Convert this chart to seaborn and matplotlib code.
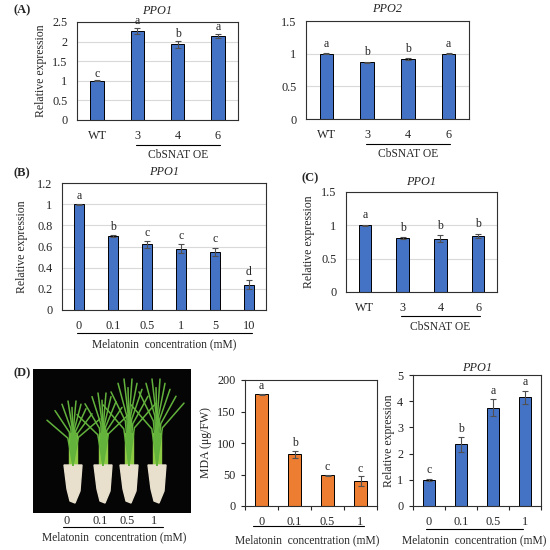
import matplotlib
matplotlib.use("Agg")
import matplotlib.pyplot as plt
import seaborn as sns
import numpy as np

sns.set_theme(style="white")
plt.rcParams['font.family'] = ['Liberation Serif', 'DejaVu Serif']
plt.rcParams['mathtext.fontset'] = 'stix'

BLUE = "#4472C4"
ORANGE = "#ED7D31"
TICK_FS = 8.8
TEXT_FS = 8.3

# (A) PPO1 / PPO2 in CbSNAT OE lines
lines_cats = ["WT", "3", "4", "6"]
a_ppo1 = [1.0, 2.27, 1.93, 2.15]
a_ppo1_err = [0.01, 0.07, 0.09, 0.05]
a_ppo1_let = ["c", "a", "b", "a"]
a_ppo2 = [1.0, 0.87, 0.92, 1.0]
a_ppo2_err = [0.01, 0.01, 0.01, 0.01]
a_ppo2_let = ["a", "b", "b", "a"]

# (B) PPO1 vs melatonin
mel_cats = ["0", "0.1", "0.5", "1", "5", "10"]
b_ppo1 = [1.0, 0.70, 0.62, 0.58, 0.55, 0.24]
b_ppo1_err = [0.005, 0.012, 0.03, 0.04, 0.04, 0.045]
b_ppo1_let = ["a", "b", "c", "c", "c", "d"]

# (C) PPO1
c_ppo1 = [1.0, 0.81, 0.80, 0.84]
c_ppo1_err = [0.01, 0.015, 0.05, 0.035]
c_ppo1_let = ["a", "b", "b", "b"]

# (D) MDA and PPO1
d_cats = ["0", "0.1", "0.5", "1"]
d_mda = [177, 82, 49, 40]
d_mda_err = [1.5, 6, 1, 8]
d_mda_let = ["a", "b", "c", "c"]
d_ppo1 = [1.0, 2.35, 3.75, 4.15]
d_ppo1_err = [0.04, 0.27, 0.32, 0.25]
d_ppo1_let = ["c", "b", "a", "a"]

fig = plt.figure(figsize=(5.5, 5.5), dpi=100)


def px_axes(x0, y0, x1, y1):
    return fig.add_axes([x0 / 550, 1 - y1 / 550, (x1 - x0) / 550, (y1 - y0) / 550])


def bar_panel(ax, cats, vals, errs, letters, color, width, ymax, yticks,
              grid=True, excel_ticks=False, let_off=None):
    sns.barplot(x=cats, y=vals, order=cats, color=color, saturation=1, width=width,
                edgecolor="black", linewidth=0.7, ax=ax)
    ax.errorbar(range(len(cats)), vals, yerr=errs, fmt="none", ecolor="#505050",
                elinewidth=0.8, capsize=2, capthick=0.8)
    if let_off is None:
        let_off = ymax * 0.02
    for i, (v, e, l) in enumerate(zip(vals, errs, letters)):
        ax.text(i, v + e + let_off, l, ha="center", va="bottom", fontsize=8.5)
    ax.set_xlim(-0.5, len(cats) - 0.5)
    ax.set_ylim(0, ymax)
    ax.set_yticks(yticks)
    ax.set_yticklabels([f"{t:g}" for t in yticks])
    ax.set_xlabel("")
    ax.set_ylabel("")
    for s in ax.spines.values():
        s.set_visible(True)
        s.set_color("#303030")
        s.set_linewidth(0.8)
    if grid:
        ax.yaxis.grid(True, color="#d9d9d9", linewidth=0.8)
        ax.set_axisbelow(True)
    if excel_ticks:
        ax.tick_params(axis="y", length=3, width=0.8, direction="out", pad=4,
                       labelsize=TICK_FS, left=True)
        ax.tick_params(axis="x", length=0, pad=7, labelsize=TICK_FS)
        ax.set_xticks(np.arange(-0.5, len(cats)), minor=True)
        ax.tick_params(axis="x", which="minor", length=3, width=0.8,
                       direction="out", bottom=True)
    else:
        ax.tick_params(axis="both", length=0, labelsize=TICK_FS)
        ax.tick_params(axis="y", pad=7)
        ax.tick_params(axis="x", pad=7)


def group_line(ax, x0, x1, yl, yt, text, xt):
    ax.plot([x0, x1], [yl, yl], transform=ax.get_xaxis_transform(),
            color="black", linewidth=0.8, clip_on=False)
    ax.text(xt, yt, text, transform=ax.get_xaxis_transform(), ha="center",
            va="center", fontsize=TEXT_FS)


def title(ax, text, y):
    ax.text(0.5, y, text, transform=ax.transAxes, ha="center", va="center",
            fontsize=8.8, style="italic")


def ylab(ax, text, xr):
    ax.set_ylabel(text, fontsize=8.5)
    ax.yaxis.set_label_coords(xr, 0.5)


# (A) left
ax = px_axes(77, 22, 238, 120)
bar_panel(ax, lines_cats, a_ppo1, a_ppo1_err, a_ppo1_let, BLUE, 0.33, 2.5,
          [0, 0.5, 1, 1.5, 2, 2.5], let_off=0.02)
ylab(ax, "Relative expression", -0.186)
title(ax, "PPO1", 1.115)
group_line(ax, 0.97, 3.05, -0.255, -0.36, "CbSNAT OE", 2)

# (A) right
ax = px_axes(306, 21, 469, 119)
bar_panel(ax, lines_cats, a_ppo2, a_ppo2_err, a_ppo2_let, BLUE, 0.33, 1.5,
          [0, 0.5, 1, 1.5], let_off=0.05)
title(ax, "PPO2", 1.12)
group_line(ax, 0.97, 3.03, -0.255, -0.36, "CbSNAT OE", 2)

# (B)
ax = px_axes(62, 183, 266, 310)
bar_panel(ax, mel_cats, b_ppo1, b_ppo1_err, b_ppo1_let, BLUE, 0.3, 1.2,
          [0, 0.2, 0.4, 0.6, 0.8, 1, 1.2], let_off=0.02)
ylab(ax, "Relative expression", -0.167)
title(ax, "PPO1", 1.085)
group_line(ax, -0.05, 5.1, -0.181, -0.27, "Melatonin  concentration (mM)", 2.5)

# (C)
ax = px_axes(346, 192, 497, 292)
bar_panel(ax, lines_cats, c_ppo1, c_ppo1_err, c_ppo1_let, BLUE, 0.33, 1.5,
          [0, 0.5, 1, 1.5], let_off=0.05)
ylab(ax, "Relative expression", -0.205)
title(ax, "PPO1", 1.10)
group_line(ax, 0.95, 3.05, -0.24, -0.35, "CbSNAT OE", 2)

# (D) photo stand-in: seedlings on black background
ax = px_axes(33, 369, 191, 513)
ax.set_facecolor("#050505")
ax.set_xlim(0, 158)
ax.set_ylim(0, 144)
plant_x = [40, 70, 96, 124]
plant_top = [112, 120, 134, 134]
leaf_dx = [-26, -18, -11, -5, -1, 3, 8, 13, 19, 27]
leaf_len = [0.7, 0.85, 0.95, 1.0, 0.9, 1.0, 0.95, 0.88, 0.8, 0.72]
for px, top in zip(plant_x, plant_top):
    base = 48
    for dx, fl in zip(leaf_dx, leaf_len):
        ax.plot([px, px + dx * 0.2, px + dx], [base, base + (top - base) * 0.6 * fl,
                base + (top - base) * fl], color="#62b23c", linewidth=1.1,
                solid_capstyle="round")
    ax.fill([px - 4, px + 4, px + 4, px - 4], [base - 3, base - 3, base + 32, base + 32],
            color="#8fca45")
    ax.fill([px - 9, px + 9, px + 7, px + 2, px - 3, px - 6], [base, base, 22, 10, 12, 24],
            color="#e8e0cc")
ax.set_xticks([])
ax.set_yticks([])
for s in ax.spines.values():
    s.set_visible(False)
for lbl, xx in zip(d_cats, [67, 100, 127, 154]):
    fig.text(xx / 550, 1 - 521 / 550, lbl, ha="center", va="center", fontsize=TICK_FS)
fig.lines.append(plt.Line2D([63 / 550, 163 / 550], [1 - 527 / 550, 1 - 527 / 550],
                            transform=fig.transFigure, color="black", linewidth=0.8))
fig.text(114 / 550, 1 - 537 / 550, "Melatonin  concentration (mM)", ha="center",
         va="center", fontsize=TEXT_FS)

# (D) MDA
ax = px_axes(245, 380, 377, 506)
bar_panel(ax, d_cats, d_mda, d_mda_err, d_mda_let, ORANGE, 0.4, 200,
          [0, 50, 100, 150, 200], grid=False, excel_ticks=True, let_off=2)
ylab(ax, "MDA (μg/FW)", -0.25)
group_line(ax, -0.25, 3.1, -0.159, -0.27, "Melatonin  concentration (mM)", 1.38)

# (D) PPO1
ax = px_axes(413, 375, 541, 506)
bar_panel(ax, d_cats, d_ppo1, d_ppo1_err, d_ppo1_let, BLUE, 0.35, 5,
          [0, 1, 2, 3, 4, 5], grid=False, excel_ticks=True, let_off=0.1)
ylab(ax, "Relative expression", -0.14)
title(ax, "PPO1", 1.055)
group_line(ax, -0.1, 2.95, -0.176, -0.26, "Melatonin  concentration (mM)", 1.4)

# panel letters
for lab, x, y in [("(A)", 13, 10), ("(B)", 13, 173), ("(C)", 302, 178), ("(D)", 13, 373)]:
    fig.text(x / 550, 1 - y / 550, lab, ha="left", va="center", fontsize=9,
             fontweight="bold")

fig.savefig("out.png", dpi=100, facecolor="white")
